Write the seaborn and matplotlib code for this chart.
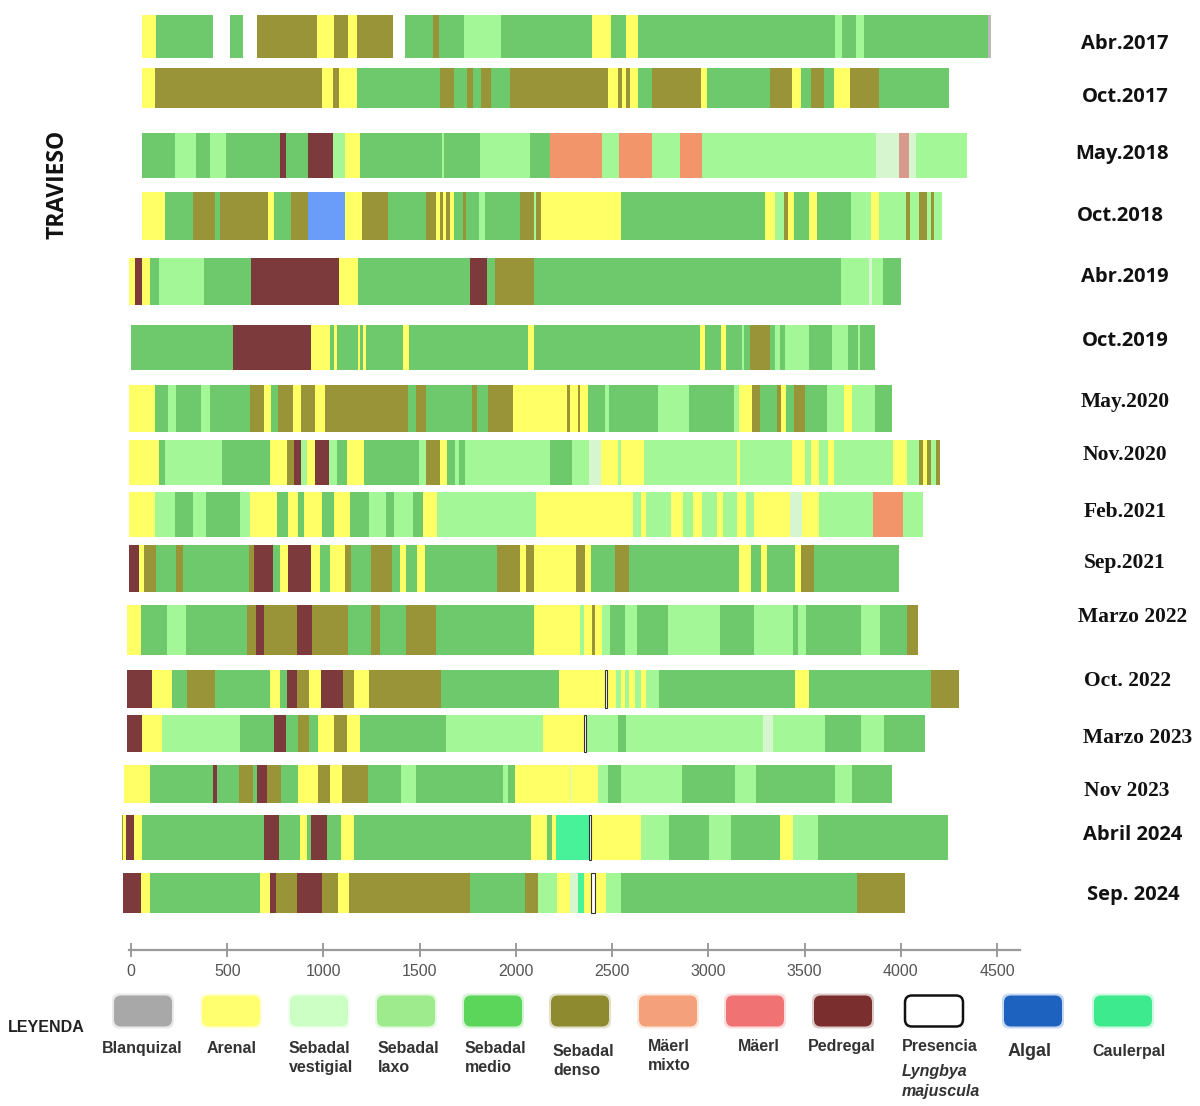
import pandas as pd
import seaborn as sns
import matplotlib.pyplot as plt
from matplotlib.patches import FancyBboxPatch

# Campañas de muestreo (de arriba a abajo)
campaigns = ['Abr.2017', 'Oct.2017', 'May.2018', 'Oct.2018', 'Abr.2019', 'Oct.2019',
             'May.2020', 'Nov.2020', 'Feb.2021', 'Sep.2021', 'Marzo 2022', 'Oct. 2022',
             'Marzo 2023', 'Nov 2023', 'Abril 2024', 'Sep. 2024']

# Limites de tramo (m) y clase de cada tramo
# B blanquizal, A arenal, V vestigial, L laxo, M medio, D denso, X maerl mixto,
# R maerl, P pedregal, Y Lyngbya, G algal, C caulerpal, _ sin dato
edges_abr2017 = [56, 130, 425, 516, 581, 655, 965, 1054, 1127, 1172, 1363, 1423, 1570, 1600,
                 1732, 1924, 2397, 2494, 2574, 2633, 3660, 3696, 3769, 3808, 4454, 4470]
codes_abr2017 = 'AM_M_DADAD_MDMLMAMAMLMLMB'

edges_oct2017 = [56, 124, 994, 1048, 1083, 1172, 1606, 1679, 1747, 1777, 1821, 1871, 1969, 2479,
                 2532, 2553, 2574, 2594, 2633, 2707, 2963, 2993, 3318, 3436, 3483, 3533, 3601,
                 3651, 3734, 3887, 4250]
codes_oct2017 = 'ADADAMDMDMDMDADADAMDAMDAMDMADM'

edges_may2018 = [56, 227, 339, 410, 493, 773, 803, 921, 1048, 1113, 1192, 1614, 1629, 1815, 2072,
                 2175, 2450, 2538, 2707, 2854, 2966, 3873, 3991, 4041, 4079, 4345]
codes_may2018 = 'MLMLMPMPLAMLMLMXLXLXLVRVL'

edges_oct2018 = [56, 177, 324, 434, 463, 714, 744, 832, 921, 1113, 1201, 1334, 1535, 1585, 1606,
                 1620, 1635, 1659, 1679, 1724, 1741, 1806, 1842, 2019, 2093, 2107, 2131, 2544,
                 3297, 3347, 3394, 3415, 3445, 3524, 3563, 3740, 3843, 3887, 4026, 4050, 4094,
                 4138, 4159, 4174, 4212]
codes_oct2018 = 'AMDMDAMDGADMDADADAMDMLMDLDAMALDAMAMLALDLDLDL'

edges_abr2019 = [-10, 23, 59, 100, 147, 380, 626, 1083, 1180, 1762, 1850, 1889, 2093, 3687, 3837,
                 3852, 3908, 4000]
codes_abr2019 = 'APAMLMPAMPMDMLVLM'

edges_oct2019 = [0, 528, 935, 1033, 1054, 1068, 1177, 1192, 1207, 1222, 1414, 1446, 2063, 2096,
                 2958, 2981, 3064, 3090, 3173, 3188, 3217, 3318, 3347, 3371, 3400, 3524, 3642,
                 3725, 3778, 3790, 3864]
codes_oct2019 = 'MPAMAMAMAMAMAMAMAMLMDMLMLMLMLM'

edges_may2020 = [-10, 124, 192, 236, 366, 410, 620, 690, 729, 764, 841, 885, 956, 1009, 1437, 1482,
                 1532, 1771, 1797, 1856, 1983, 2264, 2279, 2323, 2332, 2373, 2462, 2485, 2736,
                 2899, 3135, 3158, 3229, 3268, 3356, 3377, 3406, 3445, 3504, 3616, 3704, 3746,
                 3864, 3952]
codes_may2020 = 'AMLMLMDAMDADADMDMDMDADADAMLMLMLADMDAMDMLALM'

edges_nov2020 = [-10, 147, 177, 472, 720, 811, 847, 882, 915, 956, 1030, 1068, 1121, 1210, 1496,
                 1535, 1606, 1644, 1682, 1703, 1738, 2175, 2293, 2382, 2441, 2530, 2544, 2668,
                 3149, 3164, 3436, 3504, 3533, 3577, 3622, 3651, 3961, 4035, 4094, 4115, 4138,
                 4159, 4183, 4203]
codes_nov2020 = 'AMLMADPLAPLMAMLDAMLMLMLVALALALALALALALDADLD'

edges_feb2021 = [-10, 124, 227, 324, 389, 566, 617, 758, 817, 868, 897, 994, 1054, 1136, 1237,
                 1325, 1369, 1467, 1517, 1591, 2107, 2609, 2648, 2677, 2804, 2869, 2922, 2966,
                 3046, 3076, 3149, 3194, 3238, 3424, 3489, 3577, 3858, 4011, 4115]
codes_feb2021 = 'ALMLMLAMAMAMAMLMLMALALALALALALALAVALXL'

edges_sep2021 = [-10, 41, 65, 130, 233, 271, 611, 640, 738, 773, 817, 935, 980, 1033, 1113, 1142,
                 1245, 1355, 1399, 1429, 1488, 1526, 1904, 2022, 2051, 2096, 2314, 2361, 2391,
                 2515, 2589, 3158, 3223, 3276, 3306, 3450, 3483, 3548, 3991]
codes_sep2021 = 'PADMDMDPMAPAMADMDMAMAMDADADAMDMAMAMADM'

edges_mar2022 = [-20, 50, 189, 286, 605, 649, 693, 862, 941, 1127, 1245, 1296, 1431, 1585, 2096,
                 2332, 2352, 2397, 2411, 2450, 2491, 2565, 2627, 2789, 3061, 3238, 3439, 3468,
                 3510, 3793, 3893, 4035, 4088]
codes_mar2022 = 'AMLMDPDPDMDMDMALADALMLMLMLMLMLMD'

edges_oct2022 = [-20, 109, 212, 292, 434, 723, 773, 811, 862, 927, 986, 1104, 1157, 1237, 1609,
                 2225, 2464, 2474, 2521, 2544, 2565, 2589, 2618, 2648, 2677, 2745, 3450, 3524,
                 4159, 4301]
codes_oct2022 = 'PAMDMAMPDAPDADMAYALALALALMAMD'

edges_mar2023 = [-20, 56, 162, 566, 744, 803, 868, 927, 974, 1054, 1121, 1192, 1635, 2140, 2354,
                 2364, 2530, 2574, 3282, 3335, 3607, 3793, 3911, 4124]
codes_mar2023 = 'PALMPMDMADAMLAYLMLVLMLM'

edges_nov2023 = [-35, 100, 425, 448, 560, 634, 655, 708, 782, 870, 971, 1033, 1098, 1231, 1402,
                 1482, 1933, 1960, 1998, 2279, 2287, 2426, 2479, 2544, 2863, 3141, 3247, 3657,
                 3749, 3952]
codes_nov2023 = 'AMPMDMPDMADADMLMLMAVALMLMLMLM'

edges_abr2024 = [-48, -39, -24, 14, 59, 693, 767, 876, 912, 935, 1018, 1089, 1157, 2081, 2161,
                 2190, 2211, 2382, 2392, 2648, 2795, 3002, 3120, 3371, 3439, 3572, 4248]
codes_abr2024 = 'DAPAMPMAMPMAMAMACYALMLMALM'

edges_sep2024 = [-39, 50, 100, 670, 720, 752, 862, 994, 1077, 1133, 1762, 2048, 2116, 2214, 2279,
                 2323, 2352, 2391, 2410, 2470, 2544, 3775, 4020]
codes_sep2024 = 'PAMAPDPDADMDLAVCAYALMD'

all_edges = [edges_abr2017, edges_oct2017, edges_may2018, edges_oct2018, edges_abr2019,
             edges_oct2019, edges_may2020, edges_nov2020, edges_feb2021, edges_sep2021,
             edges_mar2022, edges_oct2022, edges_mar2023, edges_nov2023, edges_abr2024,
             edges_sep2024]
all_codes = [codes_abr2017, codes_oct2017, codes_may2018, codes_oct2018, codes_abr2019,
             codes_oct2019, codes_may2020, codes_nov2020, codes_feb2021, codes_sep2021,
             codes_mar2022, codes_oct2022, codes_mar2023, codes_nov2023, codes_abr2024,
             codes_sep2024]

# Leyenda
legend_codes = ['B', 'A', 'V', 'L', 'M', 'D', 'X', 'R', 'P', 'Y', 'G', 'C']
legend_labels = ['Blanquizal', 'Arenal', 'Sebadal\nvestigial', 'Sebadal\nlaxo', 'Sebadal\nmedio',
                 'Sebadal\ndenso', 'Mäerl\nmixto', 'Mäerl', 'Pedregal', 'Presencia', 'Algal',
                 'Caulerpal']

# colores en las barras
bar_colors = {'B': '#B9B9B9', 'A': '#FFFF66', 'V': '#D6F6CF', 'L': '#A3F797', 'M': '#6DC96B',
              'D': '#9A9438', 'X': '#F3956A', 'R': '#D99A8E', 'P': '#7C3A3C', 'Y': 'white',
              'G': '#6A9CF9', 'C': '#48F298'}
# colores en la leyenda
leg_colors = {'B': '#A8A8A8', 'A': '#FFFF70', 'V': '#CCFFC4', 'L': '#9DEB8C', 'M': '#5CD65A',
              'D': '#8E8A30', 'X': '#F4A07A', 'R': '#F07272', 'P': '#7A2E2E', 'Y': 'white',
              'G': '#1E62C0', 'C': '#3EEA8E'}

# posicion vertical (px) y alto de cada franja
row_y = [36.5, 88, 155.5, 216, 281.5, 347.5, 408.5, 462.5, 514.5, 568.5, 630, 689, 733.5, 784,
         837.5, 893]
row_h = [43, 40, 45, 48, 47, 45, 47, 45, 45, 47, 50, 38, 37, 38, 45, 40]
label_y = [44, 97, 154, 216, 277, 341, 402, 455, 512, 563, 617, 681, 738, 791, 835, 895]
label_x = [1125, 1125, 1122, 1120, 1125, 1125, 1125, 1125, 1125, 1125, 1133, 1127, 1138, 1127,
           1133, 1133]
serif_rows = {'May.2020', 'Nov.2020', 'Feb.2021', 'Sep.2021', 'Marzo 2022', 'Oct. 2022',
              'Marzo 2023', 'Nov 2023'}

# tabla larga de tramos
records = []
for name, edges, codes in zip(campaigns, all_edges, all_codes):
    assert len(edges) == len(codes) + 1, name
    for i, c in enumerate(codes):
        records.append({'Campaña': name, 'inicio': edges[i], 'fin': edges[i + 1], 'clase': c})
segs = pd.DataFrame(records)
segs = segs[segs['clase'] != '_']

sns.set_theme(style='white')
plt.rcParams['font.family'] = ['Open Sans', 'DejaVu Sans']
narrow = ['Liberation Sans Narrow', 'Liberation Sans']

fig = plt.figure(figsize=(12, 11.06), dpi=100)
W, H = 1200, 1106
scale = 0.19244  # px por metro
x_lo, x_hi = -50, 4620
left_px = 131 + x_lo * scale
ax = fig.add_axes([left_px / W, 1 - 950 / H, (x_hi - x_lo) * scale / W, 950 / H])
ax.set_xlim(x_lo, x_hi)
ax.set_ylim(950, 0)
ax.set_facecolor('none')

for i, name in enumerate(campaigns):
    d = segs[segs['Campaña'] == name]
    cols = [bar_colors[c] for c in d['clase']]
    ax.barh(row_y[i], d['fin'] - d['inicio'], left=d['inicio'], height=row_h[i],
            color=cols, linewidth=0)
    dy = d[d['clase'] == 'Y']
    if len(dy):
        ax.barh(row_y[i], dy['fin'] - dy['inicio'], left=dy['inicio'], height=row_h[i],
                color='white', edgecolor='#333333', linewidth=0.8)

sns.despine(ax=ax, left=True)
ax.spines['bottom'].set_color('#9A9A9A')
ax.spines['bottom'].set_linewidth(1.6)
ax.spines['bottom'].set_bounds(-10, 4620)
ax.set_yticks([])
ax.set_xticks(range(0, 5000, 500))
ax.tick_params(axis='x', direction='inout', length=10, width=1.2, color='#8A8A8A',
               labelsize=11.5, labelcolor='#555555', pad=5, bottom=True)
for t in ax.get_xticklabels():
    t.set_family(narrow)

# capa superior en coordenadas de pixel para textos y leyenda
ov = fig.add_axes([0, 0, 1, 1])
ov.set_xlim(0, W)
ov.set_ylim(H, 0)
ov.axis('off')

ov.text(58, 184, 'TRAVIESO', rotation=90, ha='center', va='center', fontsize=16.5,
        fontweight='bold', color='#111111')

for i, name in enumerate(campaigns):
    if name in serif_rows:
        fam = ['Liberation Serif', 'DejaVu Serif']
        fs = 15.5
    else:
        fam = ['Open Sans', 'DejaVu Sans']
        fs = 14.5
    ov.text(label_x[i], label_y[i], name, ha='center', va='center', fontsize=fs,
            fontweight='bold', family=fam, color='#111111')

ov.text(8, 1028, 'LEYENDA', ha='left', va='center', fontsize=11.5, fontweight='bold',
        family=narrow, color='#222222')

sw_x = [143, 231, 319, 406, 493, 580, 668, 755, 843, 934, 1033, 1123]
txt_x = [102, 207, 289, 378, 465, 553, 648, 738, 808, 902, 1008, 1092]
txt_y = [1050, 1050, 1050, 1050, 1050, 1053, 1048, 1048, 1048, 1048, 1052, 1053]
sw_w, sw_h, r = 58, 31, 7
for i, c in enumerate(legend_codes):
    x0, y0 = sw_x[i] - sw_w / 2, 1011 - sw_h / 2
    # halo suave
    if c != 'Y':
        ov.add_patch(FancyBboxPatch((x0 + r - 2, y0 + r - 2), sw_w - 2 * r + 4,
                                    sw_h - 2 * r + 4, boxstyle=f'round,pad={r}',
                                    fc=leg_colors[c], ec='none', alpha=0.25))
    ov.add_patch(FancyBboxPatch((x0 + r, y0 + r), sw_w - 2 * r, sw_h - 2 * r,
                                boxstyle=f'round,pad={r}', fc=leg_colors[c],
                                ec='#111111' if c == 'Y' else 'none', lw=1.8))
    fs = 13 if c == 'G' else 11.5
    ov.text(txt_x[i], txt_y[i] - 9, legend_labels[i], ha='left', va='top', fontsize=fs,
            fontweight='bold', family=narrow, color='#333333', linespacing=1.3)
ov.text(902, 1064, 'Lyngbya\nmajuscula', ha='left', va='top', fontsize=11.5, fontweight='bold',
        fontstyle='italic', family=narrow, color='#333333', linespacing=1.45)

fig.savefig('out.png', dpi=100)
